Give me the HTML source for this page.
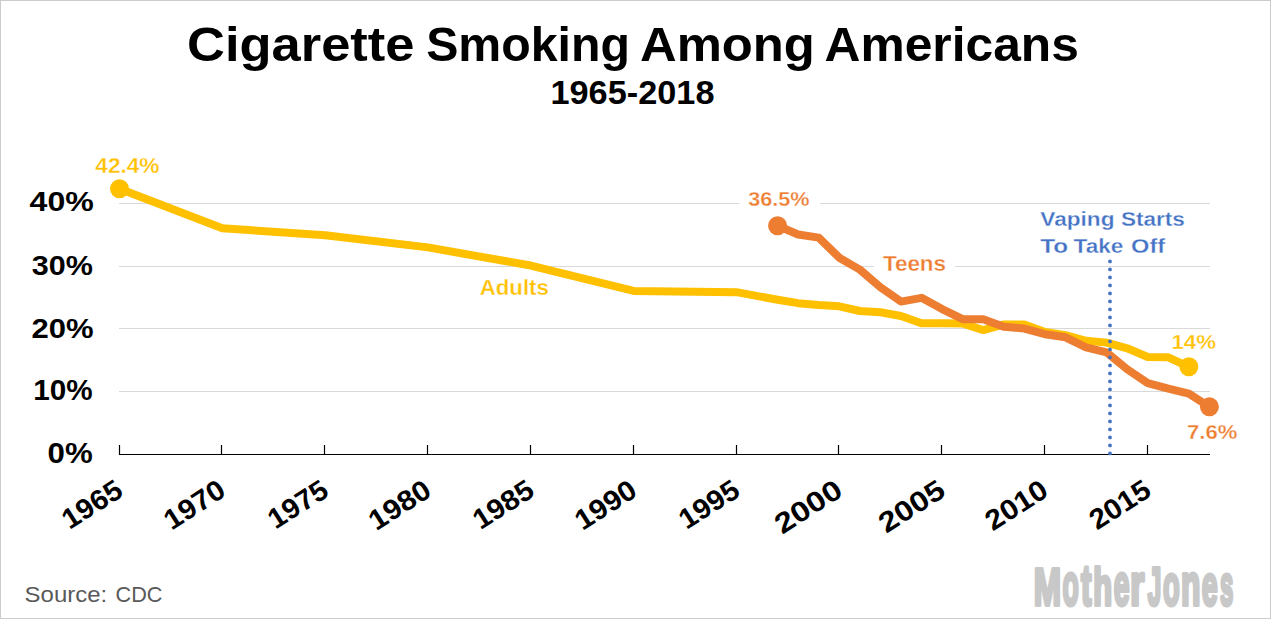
<!DOCTYPE html>
<html><head><meta charset="utf-8"><style>
html,body{margin:0;padding:0;background:#fff;}
body{width:1271px;height:619px;overflow:hidden;position:relative;}
.frame{position:absolute;left:0;top:0;width:1269px;height:617px;border:1px solid #CCCCCC;}
svg{position:absolute;left:0;top:0;}
text{font-family:"Liberation Sans",sans-serif;}
</style></head><body>
<div class="frame"></div>
<svg width="1271" height="619" viewBox="0 0 1271 619">
<line x1="119" y1="203.5" x2="1210" y2="203.5" stroke="#D9D9D9" stroke-width="1"/>
<line x1="119" y1="266.5" x2="1210" y2="266.5" stroke="#D9D9D9" stroke-width="1"/>
<line x1="119" y1="328.5" x2="1210" y2="328.5" stroke="#D9D9D9" stroke-width="1"/>
<line x1="119" y1="391.5" x2="1210" y2="391.5" stroke="#D9D9D9" stroke-width="1"/>
<rect x="739" y="190" width="81" height="20" fill="#fff"/>
<rect x="874" y="254" width="81" height="20" fill="#fff"/>
<line x1="119" y1="454.5" x2="1210" y2="454.5" stroke="#000" stroke-width="1.2"/>
<line x1="119.5" y1="445" x2="119.5" y2="455" stroke="#000" stroke-width="1.2"/>
<line x1="221.5" y1="445" x2="221.5" y2="455" stroke="#000" stroke-width="1.2"/>
<line x1="324.5" y1="445" x2="324.5" y2="455" stroke="#000" stroke-width="1.2"/>
<line x1="427.5" y1="445" x2="427.5" y2="455" stroke="#000" stroke-width="1.2"/>
<line x1="530.5" y1="445" x2="530.5" y2="455" stroke="#000" stroke-width="1.2"/>
<line x1="633.5" y1="445" x2="633.5" y2="455" stroke="#000" stroke-width="1.2"/>
<line x1="736.5" y1="445" x2="736.5" y2="455" stroke="#000" stroke-width="1.2"/>
<line x1="838.5" y1="445" x2="838.5" y2="455" stroke="#000" stroke-width="1.2"/>
<line x1="941.5" y1="445" x2="941.5" y2="455" stroke="#000" stroke-width="1.2"/>
<line x1="1044.5" y1="445" x2="1044.5" y2="455" stroke="#000" stroke-width="1.2"/>
<line x1="1147.5" y1="445" x2="1147.5" y2="455" stroke="#000" stroke-width="1.2"/>
<polyline points="119.50,188.79 222.32,228.27 325.15,235.17 427.98,247.39 530.80,265.56 633.62,290.94 736.45,292.19 777.58,299.71 798.15,303.16 818.71,305.04 839.28,306.29 859.84,310.99 880.41,312.25 900.97,316.01 921.54,323.21 942.10,323.21 962.67,323.53 983.23,330.11 1003.80,324.47 1024.36,324.47 1044.93,331.99 1065.49,335.12 1086.06,340.76 1106.62,342.64 1127.18,348.28 1147.75,357.05 1168.32,357.37 1188.88,366.77" fill="none" stroke="#FFC000" stroke-width="8.0" stroke-linejoin="round" stroke-linecap="round"/>
<circle cx="119.50" cy="188.79" r="9.5" fill="#FFC000"/>
<circle cx="1188.88" cy="366.77" r="9.5" fill="#FFC000"/>
<polyline points="777.58,225.77 798.15,234.54 818.71,237.67 839.28,257.73 859.84,269.63 880.41,287.18 900.97,301.59 921.54,297.83 942.10,309.11 962.67,319.14 983.23,319.14 1003.80,326.66 1024.36,328.54 1044.93,334.18 1065.49,337.31 1086.06,347.34 1106.62,352.35 1127.18,369.27 1147.75,383.06 1168.32,388.70 1188.88,393.71 1209.45,406.87" fill="none" stroke="#ED7D31" stroke-width="8.0" stroke-linejoin="round" stroke-linecap="round"/>
<circle cx="777.58" cy="225.77" r="9.5" fill="#ED7D31"/>
<circle cx="1209.45" cy="406.87" r="9.5" fill="#ED7D31"/>
<line x1="1110" y1="261.4" x2="1110" y2="455" stroke="#4472C4" stroke-width="3.8" stroke-linecap="round" stroke-dasharray="0 8"/>
<text x="187.1" y="61.42" font-size="47.75" font-weight="bold" fill="#000" textLength="227.41" lengthAdjust="spacingAndGlyphs">Cigarette</text>
<text x="426.15" y="61.42" font-size="47.75" font-weight="bold" fill="#000" textLength="203.81" lengthAdjust="spacingAndGlyphs">Smoking</text>
<text x="640.03" y="61.42" font-size="47.75" font-weight="bold" fill="#000" textLength="174.87" lengthAdjust="spacingAndGlyphs">Among</text>
<text x="824.56" y="61.42" font-size="47.75" font-weight="bold" fill="#000" textLength="254.32" lengthAdjust="spacingAndGlyphs">Americans</text>
<text x="550.47" y="103.77" font-size="32.82" font-weight="bold" fill="#000" textLength="164.04" lengthAdjust="spacingAndGlyphs">1965-2018</text>
<text x="29.62" y="211.47" font-size="27.96" font-weight="bold" fill="#000" textLength="64.23" lengthAdjust="spacingAndGlyphs">40%</text>
<text x="31.84" y="274.62" font-size="28.17" font-weight="bold" fill="#000" textLength="61.17" lengthAdjust="spacingAndGlyphs">30%</text>
<text x="31.51" y="338.02" font-size="28.17" font-weight="bold" fill="#000" textLength="62.11" lengthAdjust="spacingAndGlyphs">20%</text>
<text x="33.37" y="400.11" font-size="28.73" font-weight="bold" fill="#000" textLength="59.31" lengthAdjust="spacingAndGlyphs">10%</text>
<text x="47.55" y="463.11" font-size="28.73" font-weight="bold" fill="#000" textLength="45.14" lengthAdjust="spacingAndGlyphs">0%</text>
<text x="95.36" y="172.79" font-size="21.27" font-weight="bold" fill="#FFC000" stroke="#fff" stroke-width="0.3" textLength="64.12" lengthAdjust="spacingAndGlyphs">42.4%</text>
<text x="748.16" y="205.79" font-size="20.99" font-weight="bold" fill="#ED7D31" stroke="#fff" stroke-width="0.3" textLength="61.39" lengthAdjust="spacingAndGlyphs">36.5%</text>
<text x="479.74" y="294.9" font-size="21.74" font-weight="bold" fill="#FFC000" stroke="#fff" stroke-width="0.3" textLength="69.06" lengthAdjust="spacingAndGlyphs">Adults</text>
<text x="882.88" y="271.21" font-size="22.34" font-weight="bold" fill="#ED7D31" stroke="#fff" stroke-width="0.3" textLength="63.14" lengthAdjust="spacingAndGlyphs">Teens</text>
<text x="1040.27" y="226.2" font-size="19.86" font-weight="bold" fill="#4472C4" stroke="#fff" stroke-width="0.3" textLength="74.28" lengthAdjust="spacingAndGlyphs">Vaping</text>
<text x="1120.92" y="226.2" font-size="19.86" font-weight="bold" fill="#4472C4" stroke="#fff" stroke-width="0.3" textLength="63.97" lengthAdjust="spacingAndGlyphs">Starts</text>
<text x="1040.26" y="252.59" font-size="20.7" font-weight="bold" fill="#4472C4" stroke="#fff" stroke-width="0.3" textLength="27.96" lengthAdjust="spacingAndGlyphs">To</text>
<text x="1073.57" y="252.59" font-size="20.7" font-weight="bold" fill="#4472C4" stroke="#fff" stroke-width="0.3" textLength="49.82" lengthAdjust="spacingAndGlyphs">Take</text>
<text x="1131.05" y="252.59" font-size="20.7" font-weight="bold" fill="#4472C4" stroke="#fff" stroke-width="0.3" textLength="34.12" lengthAdjust="spacingAndGlyphs">Off</text>
<text x="1171.45" y="349.21" font-size="19.43" font-weight="bold" fill="#FFC000" stroke="#fff" stroke-width="0.3" textLength="44.64" lengthAdjust="spacingAndGlyphs">14%</text>
<text x="1187.11" y="438.59" font-size="20.7" font-weight="bold" fill="#ED7D31" stroke="#fff" stroke-width="0.3" textLength="50.23" lengthAdjust="spacingAndGlyphs">7.6%</text>
<text x="24.62" y="602.18" font-size="21.69" font-weight="normal" fill="#595959" textLength="82.57" lengthAdjust="spacingAndGlyphs">Source:</text>
<text x="115.62" y="602.18" font-size="21.69" font-weight="normal" fill="#595959" textLength="46.88" lengthAdjust="spacingAndGlyphs">CDC</text>
<g fill="#C8C8C8" stroke="#C8C8C8" stroke-width="3.2" stroke-linejoin="round" font-weight="bold"><text transform="translate(1033.67 605.10) scale(0.1636 0.2572)" font-size="200" vector-effect="non-scaling-stroke">M</text>
<text transform="translate(1062.44 604.91) scale(0.1330 0.2964)" font-size="200" vector-effect="non-scaling-stroke">o</text>
<text transform="translate(1080.88 604.82) scale(0.1581 0.2902)" font-size="200" vector-effect="non-scaling-stroke">t</text>
<text transform="translate(1093.34 605.10) scale(0.1542 0.2552)" font-size="200" vector-effect="non-scaling-stroke">h</text>
<text transform="translate(1113.67 604.91) scale(0.1417 0.2945)" font-size="200" vector-effect="non-scaling-stroke">e</text>
<text transform="translate(1130.09 605.10) scale(0.1855 0.2981)" font-size="200" vector-effect="non-scaling-stroke">r</text>
<text transform="translate(1147.74 604.77) scale(0.1211 0.2657)" font-size="200" vector-effect="non-scaling-stroke">J</text>
<text transform="translate(1163.01 604.92) scale(0.1368 0.2900)" font-size="200" vector-effect="non-scaling-stroke">o</text>
<text transform="translate(1181.04 605.10) scale(0.1588 0.2917)" font-size="200" vector-effect="non-scaling-stroke">n</text>
<text transform="translate(1201.86 604.92) scale(0.1427 0.2900)" font-size="200" vector-effect="non-scaling-stroke">e</text>
<text transform="translate(1219.96 604.92) scale(0.1198 0.2900)" font-size="200" vector-effect="non-scaling-stroke">s</text></g>
<text x="124.80" y="494.9" font-size="28.3" font-weight="bold" text-anchor="end" textLength="65.5" lengthAdjust="spacingAndGlyphs" transform="rotate(-32.5 124.80 494.9)">1965</text>
<text x="227.62" y="494.9" font-size="28.3" font-weight="bold" text-anchor="end" textLength="66.5" lengthAdjust="spacingAndGlyphs" transform="rotate(-32.5 227.62 494.9)">1970</text>
<text x="330.45" y="494.9" font-size="28.3" font-weight="bold" text-anchor="end" textLength="65.0" lengthAdjust="spacingAndGlyphs" transform="rotate(-32.5 330.45 494.9)">1975</text>
<text x="433.28" y="494.9" font-size="28.3" font-weight="bold" text-anchor="end" textLength="67.5" lengthAdjust="spacingAndGlyphs" transform="rotate(-32.5 433.28 494.9)">1980</text>
<text x="536.10" y="494.9" font-size="28.3" font-weight="bold" text-anchor="end" textLength="66.0" lengthAdjust="spacingAndGlyphs" transform="rotate(-32.5 536.10 494.9)">1985</text>
<text x="638.92" y="494.9" font-size="28.3" font-weight="bold" text-anchor="end" textLength="67.0" lengthAdjust="spacingAndGlyphs" transform="rotate(-32.5 638.92 494.9)">1990</text>
<text x="741.75" y="494.9" font-size="28.3" font-weight="bold" text-anchor="end" textLength="65.5" lengthAdjust="spacingAndGlyphs" transform="rotate(-32.5 741.75 494.9)">1995</text>
<text x="844.58" y="494.9" font-size="28.3" font-weight="bold" text-anchor="end" textLength="74.0" lengthAdjust="spacingAndGlyphs" transform="rotate(-32.5 844.58 494.9)">2000</text>
<text x="947.40" y="494.9" font-size="28.3" font-weight="bold" text-anchor="end" textLength="72.5" lengthAdjust="spacingAndGlyphs" transform="rotate(-32.5 947.40 494.9)">2005</text>
<text x="1050.23" y="494.9" font-size="28.3" font-weight="bold" text-anchor="end" textLength="68.0" lengthAdjust="spacingAndGlyphs" transform="rotate(-32.5 1050.23 494.9)">2010</text>
<text x="1153.05" y="494.9" font-size="28.3" font-weight="bold" text-anchor="end" textLength="66.5" lengthAdjust="spacingAndGlyphs" transform="rotate(-32.5 1153.05 494.9)">2015</text>
</svg>
</body></html>
